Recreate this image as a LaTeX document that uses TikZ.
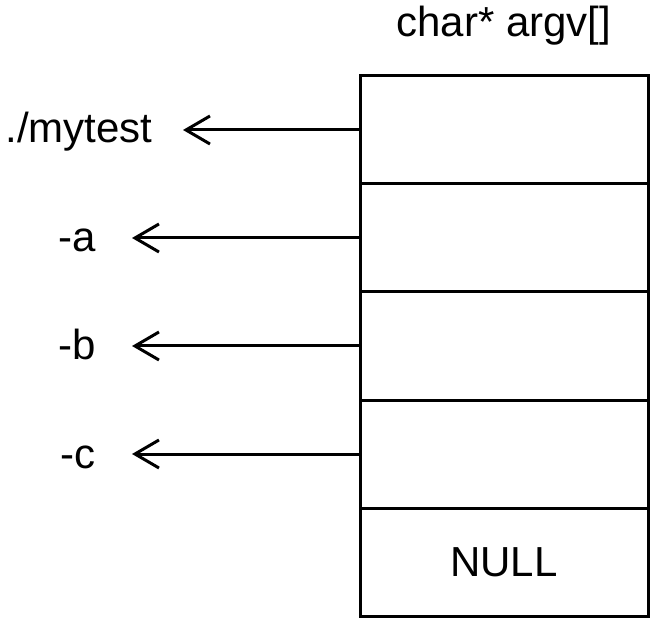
\documentclass[tikz,border=0pt]{standalone}
\usepackage{fontspec}
\setmainfont{Liberation Sans}
\usetikzlibrary{arrows.meta,positioning}

\begin{document}
\begin{tikzpicture}[x=0.5pt,y=-0.5pt]
		\tikzstyle{every node}+=[inner sep=0pt, font=\fontsize{21pt}{25pt}\selectfont]
		\tikzstyle{cell}=[draw=black, line width=1.5pt, outer sep=0pt, minimum width=144pt, minimum height=54pt]
		\tikzstyle{lbl}=[anchor=base east]
		\tikzstyle{ptr}=[line width=1.5pt, -{Straight Barb[length=12pt,width=14pt,line width=1.5pt]}]
		\useasboundingbox (0,0) rectangle (658,625);
		\node [cell] (c1) at (504,130) {};
		\node [cell, below=0pt of c1] (c2) {};
		\node [cell, below=0pt of c2] (c3) {};
		\node [cell, below=0pt of c3] (c4) {};
		\node [cell, below=0pt of c4] (c5) {NULL};
		\node [anchor=base] (title) at (504,37) {char* argv[]};
		\coordinate (t1) at (183,130);
		\coordinate (t2) at (132,238);
		\coordinate (t3) at (132,346);
		\coordinate (t4) at (132,454);
		\node [lbl] (l1) at ([xshift=-15pt,yshift=-6.5pt]t1) {./mytest};
		\node [lbl] (l2) at ([xshift=-18pt,yshift=-7pt]t2) {-a};
		\node [lbl] (l3) at ([xshift=-18pt,yshift=-7pt]t3) {-b};
		\node [lbl] (l4) at ([xshift=-18pt,yshift=-7pt]t4) {-c};
		\draw [ptr] (c1.west) -- (t1);
		\draw [ptr] (c2.west) -- (t2);
		\draw [ptr] (c3.west) -- (t3);
		\draw [ptr] (c4.west) -- (t4);
\end{tikzpicture}
\end{document}
